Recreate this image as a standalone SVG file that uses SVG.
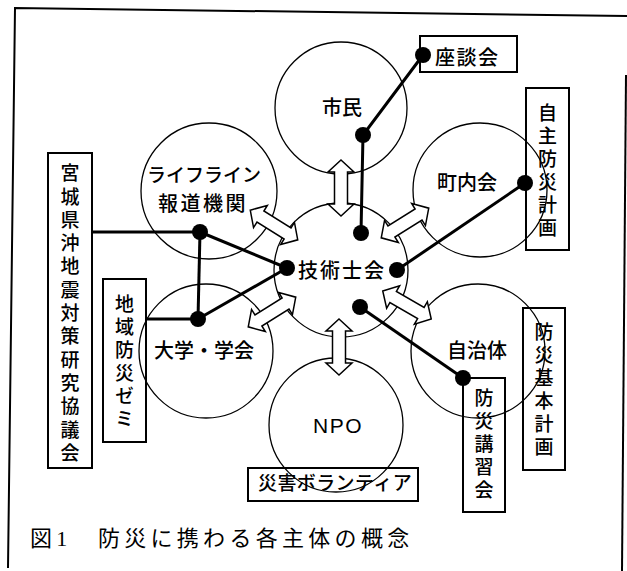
<svg xmlns="http://www.w3.org/2000/svg" width="627" height="571" viewBox="0 0 627 571">
<style>
.c{fill:none;stroke:#000;stroke-width:1.3}
.b{fill:none;stroke:#000;stroke-width:2}
.a{fill:#fff;stroke:#000;stroke-width:1.5;stroke-linejoin:miter}
.l{fill:none;stroke:#000;stroke-width:3}
.d{fill:#000}
.t{font-family:"Noto Sans CJK JP","Noto Sans",sans-serif;font-size:20px;font-weight:500;fill:#000}
.v{font-family:"Noto Sans CJK JP",sans-serif;font-size:19px;font-weight:500;fill:#000;writing-mode:vertical-rl;letter-spacing:4px}
.cap{font-family:"Liberation Serif","Noto Sans CJK JP",serif;font-size:22px;fill:#000;letter-spacing:4.3px}
</style>
<defs>
<path id="arr" d="M-28,0 L-16,-13 L-16,-6.5 L16,-6.5 L16,-13 L28,0 L16,13 L16,6.5 L-16,6.5 L-16,13 Z"/>
</defs>
<rect width="627" height="571" fill="#fff"/>
<g id="frame" fill="none" stroke="#000" stroke-width="2">
<polyline points="8,568 15,8 627,16"/>
<line x1="626" y1="75" x2="622" y2="571"/>
</g>
<g id="circles">
<circle id="c-shimin" class="c" cx="341" cy="108" r="66"/>
<circle id="c-chonaikai" class="c" cx="480" cy="190" r="67"/>
<circle id="c-lifeline" class="c" cx="209" cy="191" r="68"/>
<circle id="c-gijutsu" class="c" cx="341" cy="270" r="67"/>
<circle id="c-daigaku" class="c" cx="206" cy="351" r="67"/>
<circle id="c-jichitai" class="c" cx="478" cy="351" r="67"/>
<circle id="c-npo" class="c" cx="336" cy="425" r="67"/>
</g>
<g id="arrows">
<use href="#arr" class="a" transform="translate(341,188) rotate(90)"/>
<use href="#arr" class="a" transform="translate(339,347) rotate(90)"/>
<use href="#arr" class="a" transform="translate(274,225) rotate(32)"/>
<use href="#arr" class="a" transform="translate(405,223) rotate(-32)"/>
<use href="#arr" class="a" transform="translate(272,312) rotate(-32)"/>
<use href="#arr" class="a" transform="translate(407,305) rotate(30)"/>
</g>
<g id="connectors">
<polyline class="l" points="423,55 363,135 361,233"/>
<line class="l" x1="397" y1="270" x2="525" y2="183"/>
<line class="l" x1="360" y1="307" x2="463" y2="378"/>
<line class="l" x1="92" y1="232" x2="200" y2="232"/>
<line class="l" x1="200" y1="232" x2="287" y2="268"/>
<line class="l" x1="200" y1="232" x2="198" y2="319"/>
<line class="l" x1="287" y1="268" x2="198" y2="319"/>
<line class="l" x1="146" y1="319" x2="198" y2="319"/>
<circle class="d" cx="423" cy="55" r="8"/>
<circle class="d" cx="363" cy="135" r="8"/>
<circle class="d" cx="361" cy="233" r="8"/>
<circle class="d" cx="397" cy="270" r="8"/>
<circle class="d" cx="525" cy="183" r="8"/>
<circle class="d" cx="200" cy="232" r="8"/>
<circle class="d" cx="287" cy="268" r="8"/>
<circle class="d" cx="198" cy="319" r="8"/>
<circle class="d" cx="360" cy="307" r="8"/>
<circle class="d" cx="463" cy="378" r="8"/>
</g>
<g id="shimin"><text class="t" x="322" y="114.6">市民</text></g>
<g id="chonaikai"><text class="t" x="437" y="189.6">町内会</text></g>
<g id="lifeline"><text class="t" x="147" y="182" style="font-size:19px">ライフライン</text><text class="t" x="158" y="210.6" style="letter-spacing:2.5px">報道機関</text></g>
<g id="gijutsushikai"><text class="t" x="298" y="277.6" style="letter-spacing:2px">技術士会</text></g>
<g id="daigaku"><text class="t" x="154" y="357.6">大学・学会</text></g>
<g id="jichitai"><text class="t" x="447" y="357.6">自治体</text></g>
<g id="npo"><text x="313" y="432.5" style="font-family:'Liberation Sans',Arial,sans-serif;font-size:21px;letter-spacing:1.5px">NPO</text></g>
<g id="zadankai"><rect class="b" x="420" y="36" width="97" height="36"/><text class="t" x="435" y="64.6" style="letter-spacing:1.5px">座談会</text></g>
<g id="jishubosai"><rect class="b" x="526" y="88" width="43" height="162"/><text class="v" x="547.5" y="103.5">自主防災計画</text></g>
<g id="miyagi"><rect class="b" x="48" y="153" width="44" height="315"/><text class="v" x="70" y="163.5" style="letter-spacing:4.3px">宮城県沖地震対策研究協議会</text></g>
<g id="chiikibosai"><rect class="b" x="103" y="279" width="43" height="163"/><text class="v" x="124.5" y="294.5">地域防災ゼミ</text></g>
<g id="bosaikihon"><rect class="b" x="523" y="308" width="42" height="162"/><text class="v" x="544" y="322.5">防災基本計画</text></g>
<g id="bosaikoshu"><rect class="b" x="463" y="378" width="42" height="134"/><text class="v" x="484" y="388.5">防災講習会</text></g>
<g id="volunteer"><rect class="b" x="248" y="468" width="170" height="33"/><text class="t" x="258" y="490.2" style="font-size:19px;letter-spacing:0.4px">災害ボランティア</text></g>
<g id="caption"><text class="cap" x="30" y="546">図1　防災に携わる各主体の概念</text></g>
</svg>
